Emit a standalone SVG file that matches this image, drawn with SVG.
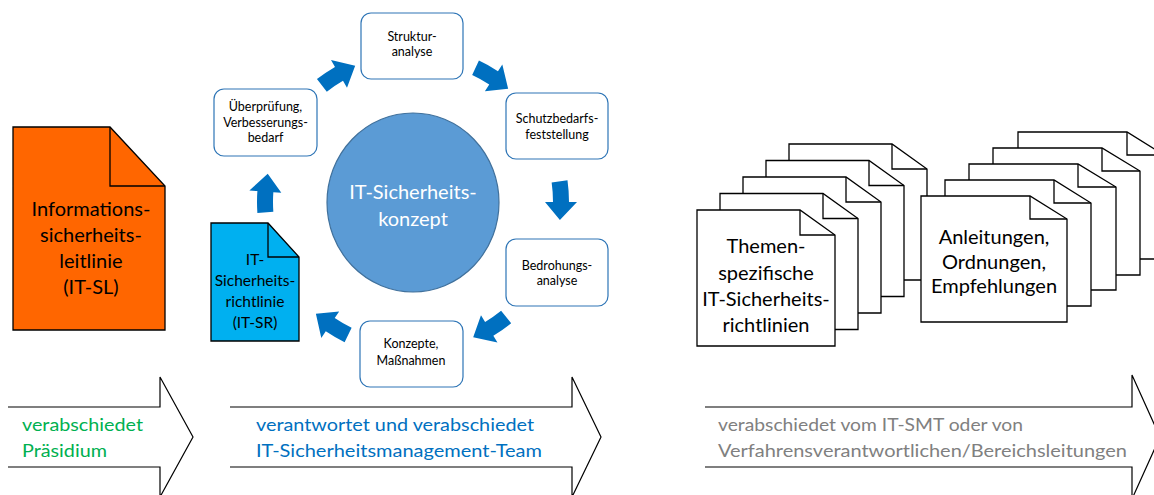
<svg xmlns="http://www.w3.org/2000/svg" width="1154" height="495" viewBox="0 0 1154 495">
<style>
text{font-family:Lato,"Liberation Sans",sans-serif;text-anchor:middle}
.doc{stroke:#000;stroke-width:1.3;stroke-linejoin:miter}
.wdoc{fill:#fff;stroke:#000;stroke-width:1.3}
.fold{fill:none;stroke:#000;stroke-width:1.3}
.box{fill:#fff;stroke:#2E75B6;stroke-width:1.2}
.bt{font-size:12.5px;fill:#000}
.big{fill:#fff;stroke:#000;stroke-width:1.2}
.lt{text-anchor:start;font-size:18px}
.ca{fill:#0070C0}
</style>
<defs>
<path id="carrow" d="M154.84,-19.01 A156,156 0 0 1 155.98,2.72 L163.98,2.86 L146.56,20.60 L131.98,2.30 L139.98,2.44 A140,140 0 0 0 138.96,-17.06 Z"/>
</defs>
<rect width="1154" height="495" fill="#fff"/>

<g id="it-sl">
<path class="doc" fill="#FF6600" d="M13,127 H110 L165,186 V330 H13 Z"/>
<path class="fold" d="M110,127 V186 H165"/>
<text font-size="20" fill="#000"><tspan x="91" y="216">Informations-</tspan><tspan x="91" y="242">sicherheits-</tspan><tspan x="91" y="268">leitlinie</tspan><tspan x="91" y="294">(IT-SL)</tspan></text>
</g>

<g id="konzept">
<ellipse cx="413" cy="202.5" rx="86" ry="89.5" fill="#5B9BD5" stroke="#41719C" stroke-width="1.2"/>
<text font-size="20" fill="#fff"><tspan x="413" y="199">IT-Sicherheits-</tspan><tspan x="413" y="226">konzept</tspan></text>
</g>

<g id="strukturanalyse">
<rect class="box" x="361" y="13" width="102" height="66" rx="10"/>
<text class="bt"><tspan x="412" y="41">Struktur-</tspan><tspan x="412" y="56">analyse</tspan></text>
</g>
<g id="schutzbedarf">
<rect class="box" x="506" y="93" width="102" height="66" rx="10"/>
<text class="bt"><tspan x="557" y="123">Schutzbedarfs-</tspan><tspan x="557" y="139">feststellung</tspan></text>
</g>
<g id="bedrohung">
<rect class="box" x="506" y="239" width="102" height="67" rx="10"/>
<text class="bt"><tspan x="557" y="270">Bedrohungs-</tspan><tspan x="557" y="285">analyse</tspan></text>
</g>
<g id="konzepte">
<rect class="box" x="360" y="321" width="103" height="66" rx="10"/>
<text class="bt"><tspan x="411" y="348">Konzepte,</tspan><tspan x="411" y="365">Maßnahmen</tspan></text>
</g>
<g id="ueberpruefung">
<rect class="box" x="214" y="89" width="103" height="67" rx="10"/>
<text class="bt"><tspan x="265.5" y="111">Überprüfung,</tspan><tspan x="265.5" y="127">Verbesserungs-</tspan><tspan x="265.5" y="142">bedarf</tspan></text>
</g>

<g id="it-sr">
<path class="doc" fill="#00B0F0" d="M211,223 H268 L299,257 V341 H211 Z"/>
<path class="fold" d="M268,223 V257 H299"/>
<text font-size="15.5" fill="#000"><tspan x="255" y="265">IT-</tspan><tspan x="255" y="286">Sicherheits-</tspan><tspan x="255" y="307">richtlinie</tspan><tspan x="255" y="328">(IT-SR)</tspan></text>
</g>

<g id="connectors">
<use href="#carrow" class="ca" transform="translate(413,202) rotate(-121)"/>
<use href="#carrow" class="ca" transform="translate(413,202) rotate(-58)"/>
<use href="#carrow" class="ca" transform="translate(413,202) rotate(-1)"/>
<use href="#carrow" class="ca" transform="translate(413,202) rotate(58)"/>
<use href="#carrow" class="ca" transform="translate(413,202) rotate(123)"/>
<use href="#carrow" class="ca" transform="translate(413,202) rotate(183)"/>
</g>

<g id="themen-stack">
<path class="wdoc" d="M789,144 H892 L927,169 V280 H789 Z"/><path class="fold" d="M892,144 V169 H927"/>
<path class="wdoc" d="M766,160.5 H869 L904,185.5 V296.5 H766 Z"/><path class="fold" d="M869,160.5 V185.5 H904"/>
<path class="wdoc" d="M743,177 H846 L881,202 V313 H743 Z"/><path class="fold" d="M846,177 V202 H881"/>
<path class="wdoc" d="M720,193.5 H823 L858,218.5 V329.5 H720 Z"/><path class="fold" d="M823,193.5 V218.5 H858"/>
<path class="wdoc" d="M697,210 H800 L835,235 V346 H697 Z"/><path class="fold" d="M800,210 V235 H835"/>
<text font-size="20" fill="#000"><tspan x="766" y="253">Themen-</tspan><tspan x="766" y="280">spezifische</tspan><tspan x="766" y="306">IT-Sicherheits-</tspan><tspan x="766" y="332">richtlinien</tspan></text>
</g>

<g id="anleitungen-stack">
<path class="wdoc" d="M1018,132 H1127 L1164,155 V259 H1018 Z"/><path class="fold" d="M1127,132 V155 H1164"/>
<path class="wdoc" d="M993,148 H1102 L1140,171 V275 H993 Z"/><path class="fold" d="M1102,148 V171 H1140"/>
<path class="wdoc" d="M969,164 H1078 L1116,187 V290 H969 Z"/><path class="fold" d="M1078,164 V187 H1116"/>
<path class="wdoc" d="M945,180 H1054 L1091,203 V306 H945 Z"/><path class="fold" d="M1054,180 V203 H1091"/>
<path class="wdoc" d="M921,196 H1030 L1067,219 V322 H921 Z"/><path class="fold" d="M1030,196 V219 H1067"/>
<text font-size="20" fill="#000"><tspan x="994" y="244">Anleitungen,</tspan><tspan x="994" y="269">Ordnungen,</tspan><tspan x="994" y="293">Empfehlungen</tspan></text>
</g>

<g id="arrow-praesidium">
<path class="big" d="M8,407 H160 V377 L193,437 L160,497 V467 H8"/>
<text class="lt" fill="#00B050"><tspan x="22" y="431" textLength="121" lengthAdjust="spacingAndGlyphs">verabschiedet</tspan><tspan x="22" y="457" textLength="85" lengthAdjust="spacingAndGlyphs">Präsidium</tspan></text>
</g>
<g id="arrow-itsmt">
<path class="big" d="M230,407 H572 V377 L601,437 L572,497 V467 H230"/>
<text class="lt" fill="#0070C0"><tspan x="256" y="431" textLength="278" lengthAdjust="spacingAndGlyphs">verantwortet und verabschiedet</tspan><tspan x="256" y="457" textLength="286" lengthAdjust="spacingAndGlyphs">IT-Sicherheitsmanagement-Team</tspan></text>
</g>
<g id="arrow-verfahren">
<path class="big" d="M705,407 H1132 V375 L1160,437 L1132,499 V467 H705"/>
<text class="lt" fill="#808080"><tspan x="718" y="431" textLength="305" lengthAdjust="spacingAndGlyphs">verabschiedet vom IT-SMT oder von</tspan><tspan x="718" y="457" textLength="409" lengthAdjust="spacingAndGlyphs">Verfahrensverantwortlichen/Bereichsleitungen</tspan></text>
</g>
</svg>
